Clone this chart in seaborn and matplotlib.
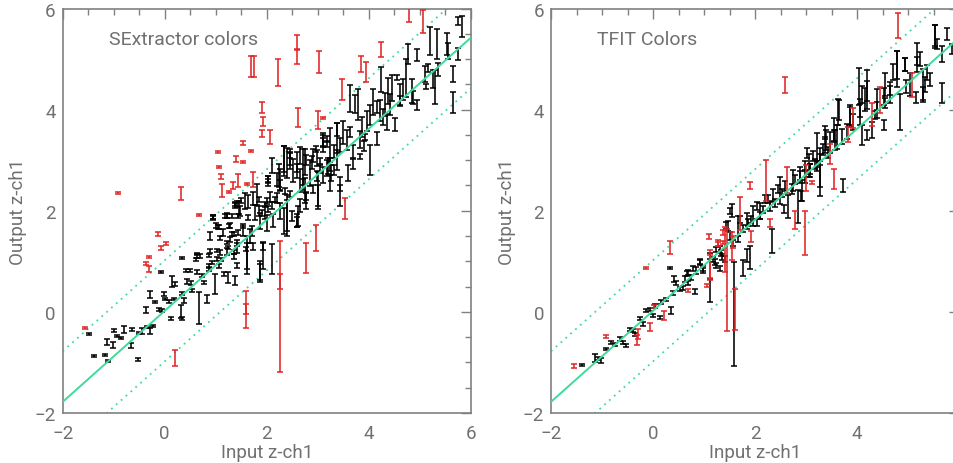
import numpy as np
import pandas as pd
import matplotlib
matplotlib.use("Agg")
import matplotlib.pyplot as plt
from matplotlib.ticker import MultipleLocator
import seaborn as sns

# ---------------- SExtractor colours ----------------
# black: well-measured sources (input colour, output colour, 1-sigma error)
sex_black_x = [-1.38, -1.18, -1.12, -1.48, -1.13, -1.00, -1.02, -0.94, -0.86, -0.79, -0.64, -0.67,
               -0.53, -0.50, -0.45, -0.35, -0.28, -0.22, -0.36, -0.28, -0.20, -0.12, -0.07, -0.06,
               -0.02, 0.01, 0.08, 0.13, 0.14, 0.18, 0.21, 0.31, 0.34, 0.33, 0.34, 0.37, 0.42, 0.44,
               0.50, 0.52, 0.54, 0.61, 0.68, 0.63, 0.73, 0.78, 0.83, 0.86, 0.86, 0.93, 0.98, 1.03,
               1.06, 1.11, 1.16, 1.22, 1.25, 1.32, 1.38, 1.35, 1.42, 1.25,
               0.95, 1.07, 1.22, 1.27, 1.38, 1.44, 1.53, 1.57, 1.64, 1.71, 1.77, 1.84, 1.90, 1.97,
               2.03, 2.06, 2.16, 2.26, 2.33, 2.39, 2.46, 2.52, 2.62, 2.65, 2.72, 2.75, 2.78, 2.88,
               2.91, 3.01, 3.05, 3.11, 3.21, 3.27, 3.37, 2.97, 3.18, 1.93, 2.10, 1.61, 1.87, 2.49,
               2.59, 1.44, 1.28, 1.08, 1.15, 1.35, 1.41, 1.02, 0.86, 0.69, 0.63, 2.03, 2.20, 2.36,
               1.80, 2.00, 2.65, 2.33, 2.59, 1.62, 1.87, 1.92,
               5.82, 5.76, 5.53, 5.56, 5.76, 5.66, 5.66, 5.33, 5.20, 5.36, 5.27, 5.30, 5.10, 5.12,
               5.17, 4.94, 4.78, 4.74, 4.84, 4.87, 4.94, 4.68, 4.61, 4.55, 4.45, 4.38, 4.32, 4.25,
               4.22, 4.16, 4.09, 4.03, 3.96, 3.86, 3.80, 3.73, 3.63, 3.83, 3.93, 4.03, 3.90, 4.35,
               4.51, 4.29, 3.63, 3.70, 3.57, 3.50, 3.44, 3.37, 3.31, 3.24, 3.18, 3.11, 3.44, 3.60,
               3.70, 3.83, 2.91, 2.78, 2.98, 3.04, 4.16, 4.42, 4.61, 3.44,
               1.22, 1.41, 1.45, 1.50, 2.03, 2.10, 2.25, 2.40, 2.46, 0.95, 1.00,
               2.33, 2.46, 2.59, 2.72, 2.85, 2.98, 3.11, 3.18, 3.24, 3.37, 3.31, 2.03, 2.26, 2.20,
               2.10, 1.97, 1.84, 1.74, 1.64, 1.48, 1.38, 1.28, 1.31, 1.18, 1.05, 0.95, 1.08, 1.35,
               1.54, 1.67, 1.74, 1.60, 1.87, 2.00, 2.13, 2.26, 2.39, 2.59, 2.65, 2.78, 2.75, 3.00,
               2.46, 0.89, 0.63, 0.89, 1.22, 1.41, 3.11, 3.24]
sex_black_y = [-0.87, -0.85, -0.97, -0.44, -0.59, -0.37, -0.66, -0.48, -0.52, -0.34, -0.35, -0.67,
               -0.95, -0.42, -0.38, -0.29, -0.37, -0.27, 0.04, 0.35, 0.20, 0.04, 0.78, 0.02,
               0.36, 0.25, 0.20, -0.14, 0.60, 0.25, 0.55, 0.00, -0.14, 1.06, 0.37, 0.23, 0.81, 0.61,
               0.81, 0.58, 0.42, 1.04, 0.08, 1.14, 0.71, 0.58, 0.25, 1.11, 0.85, 0.98, 0.55, 1.21,
               0.91, 1.04, 0.75, 1.37, 0.68, 1.54, 0.62, 1.18, 1.34, 1.27,
               1.87, 1.67, 1.90, 1.70, 2.10, 1.90, 1.70, 2.20, 1.86, 1.60, 1.97, 2.23, 1.96, 2.13,
               2.03, 2.28, 2.23, 2.50, 2.98, 1.86, 3.06, 2.79, 1.90, 3.10, 2.56, 2.96, 2.30, 2.95,
               2.43, 2.40, 2.82, 3.39, 2.89, 2.75, 3.60, 3.22, 3.41, 1.11, 1.05, 1.10, 0.79, 1.90,
               1.78, 1.57, 1.44, 1.17, 1.57, 1.10, 0.91, 1.04, 0.91, 1.11, 0.78, 2.62, 2.62, 2.39,
               2.32, 2.20, 2.60, 1.80, 2.85, 1.12, 0.80, 1.30,
               5.65, 5.75, 5.30, 5.16, 5.10, 4.70, 4.14, 5.30, 5.36, 4.80, 4.60, 4.45, 4.70, 4.45,
               4.83, 5.08, 5.10, 4.63, 4.37, 4.24, 4.10, 4.40, 4.17, 4.63, 4.43, 4.37, 4.10, 4.60,
               3.99, 4.05, 4.15, 3.90, 3.77, 3.65, 4.10, 4.11, 4.22, 3.41, 3.45, 3.00, 3.28, 3.75,
               3.70, 3.86, 3.56, 3.17, 3.40, 3.55, 3.30, 3.00, 3.18, 2.91, 2.84, 3.30, 2.53, 2.74,
               2.93, 3.08, 3.10, 3.00, 2.69, 2.98, 3.43, 4.10, 4.30, 2.30,
               1.90, 2.13, 2.07, 2.20, 2.59, 2.90, 2.70, 2.94, 3.10, 1.87, 1.70,
               3.02, 2.98, 2.90, 2.82, 2.75, 3.05, 3.40, 3.32, 3.30, 3.44, 2.80, 2.58, 2.62, 2.26,
               2.10, 1.96, 2.00, 2.25, 2.18, 1.99, 2.13, 1.70, 1.90, 1.90, 1.67, 1.87, 1.47, 1.54,
               1.60, 1.50, 1.30, 1.24, 1.80, 1.76, 1.80, 2.00, 1.95, 1.80, 2.10, 2.20, 2.40, 2.30,
               2.33, 1.50, 1.10, 1.20, 1.20, 1.30, 2.70, 2.55]
sex_black_err = [0.02, 0.02, 0.02, 0.02, 0.06, 0.03, 0.06, 0.02, 0.02, 0.07, 0.03, 0.05,
                 0.03, 0.02, 0.06, 0.02, 0.06, 0.02, 0.06, 0.07, 0.02, 0.03, 0.02, 0.03,
                 0.04, 0.02, 0.03, 0.03, 0.10, 0.02, 0.04, 0.13, 0.03, 0.02, 0.03, 0.05, 0.03, 0.05,
                 0.03, 0.04, 0.03, 0.03, 0.31, 0.02, 0.03, 0.03, 0.08, 0.03, 0.04, 0.03, 0.20, 0.03,
                 0.04, 0.03, 0.04, 0.03, 0.10, 0.04, 0.08, 0.04, 0.03, 0.03,
                 0.03, 0.04, 0.04, 0.04, 0.05, 0.04, 0.04, 0.16, 0.05, 0.10, 0.15, 0.05, 0.06, 0.05,
                 0.06, 0.10, 0.05, 0.10, 0.30, 0.36, 0.16, 0.23, 0.20, 0.17, 0.06, 0.26, 0.08, 0.13,
                 0.07, 0.36, 0.08, 0.10, 0.16, 0.16, 0.13, 0.06, 0.06, 0.26, 0.30, 0.26, 0.15, 0.10,
                 0.10, 0.05, 0.05, 0.05, 0.06, 0.05, 0.05, 0.04, 0.04, 0.04, 0.04, 0.06, 0.13, 0.06,
                 0.20, 0.06, 0.23, 0.26, 0.08, 0.38, 0.20, 0.08,
                 0.21, 0.08, 0.21, 0.16, 0.12, 0.16, 0.21, 0.30, 0.28, 0.13, 0.18, 0.33, 0.16, 0.05,
                 0.08, 0.12, 0.20, 0.38, 0.23, 0.13, 0.10, 0.20, 0.10, 0.05, 0.26, 0.26, 0.23, 0.25,
                 0.21, 0.12, 0.26, 0.20, 0.20, 0.20, 0.30, 0.17, 0.26, 0.16, 0.06, 0.30, 0.10, 0.16,
                 0.13, 0.16, 0.10, 0.13, 0.20, 0.23, 0.13, 0.20, 0.13, 0.13, 0.16, 0.13, 0.13, 0.16,
                 0.10, 0.05, 0.13, 0.10, 0.10, 0.06, 0.13, 0.20, 0.20, 0.20,
                 0.05, 0.06, 0.13, 0.05, 0.04, 0.15, 0.23, 0.30, 0.06, 0.05, 0.05,
                 0.26, 0.16, 0.26, 0.40, 0.26, 0.16, 0.13, 0.06, 0.33, 0.30, 0.10, 0.10, 0.20, 0.10,
                 0.07, 0.13, 0.10, 0.13, 0.13, 0.10, 0.04, 0.05, 0.04, 0.04, 0.04, 0.04, 0.04, 0.04,
                 0.10, 0.13, 0.07, 0.04, 0.16, 0.16, 0.13, 0.16, 0.36, 0.13, 0.13, 0.16, 0.25, 0.20,
                 0.06, 0.07, 0.04, 0.04, 0.07, 0.13, 0.16, 0.16]

# red: catastrophic / blended sources
sex_red_x = [-0.92, 0.31, 0.67, -0.14, 1.05, 1.06, 1.10, 1.12, 1.26, 1.34, 1.39, 1.44, 1.53, 1.53,
             1.61, 1.69, 1.73, 1.69, 1.76, 1.91, 1.92, 1.91, 2.06, 2.22, 2.60, 2.60, 4.80, 5.07,
             4.24, 3.84, 3.94, 3.47, 3.03, 2.62, 3.01, 3.10, 3.54, 2.97, 2.78, 2.27, 2.27, 1.59,
             1.59, 0.21, -1.57, 0.02, -0.07, -0.30, -0.37, -0.30]
sex_red_y = [2.35, 2.34, 1.92, 1.54, 3.16, 2.87, 2.68, 2.40, 2.37, 2.50, 3.03, 2.60, 2.96, 3.34,
             2.53, 3.18, 2.62, 4.85, 4.85, 4.05, 3.76, 3.53, 3.46, 4.73, 5.05, 5.32, 5.95, 5.75,
             5.19, 4.90, 4.74, 4.40, 4.94, 3.84, 3.79, 3.84, 2.04, 1.46, 1.07, 0.11, 0.60, 0.05,
             0.05, -0.91, -0.32, 1.35, 1.27, 1.08, 0.95, 0.85]
sex_red_err = [0.02, 0.13, 0.02, 0.03, 0.02, 0.02, 0.05, 0.13, 0.02, 0.06, 0.06, 0.13, 0.02, 0.03,
               0.02, 0.02, 0.15, 0.21, 0.21, 0.11, 0.09, 0.07, 0.13, 0.27, 0.15, 0.15, 0.22, 0.23,
               0.15, 0.16, 0.20, 0.20, 0.21, 0.19, 0.18, 0.02, 0.21, 0.25, 0.30, 1.30, 0.15, 0.37,
               0.10, 0.16, 0.02, 0.03, 0.04, 0.02, 0.03, 0.06]

# ---------------- TFIT colours ----------------
tfit_black_x = [-1.40, -1.14, -1.08, -1.01, -0.92, -0.82, -0.75, -0.65, -0.59, -0.52, -0.46, -0.39,
                -0.35, -0.26, -0.20, -0.13, -0.06, 0.00, 0.03, 0.13, 0.16, 0.26, 0.36, 0.33, 0.39,
                0.46, 0.52, 0.59, 0.62, 0.69, 0.75, 0.82, 0.85, 0.92, 0.98, 1.11, 1.18, 1.24, 1.31,
                1.34, 1.41, 1.24, 0.42, 0.69,
                0.66, 0.79, 0.92, 0.99, 1.12, 1.22, 1.31, 1.35, 1.44, 1.51, 1.57, 1.67, 1.77, 1.84,
                1.87, 1.93, 2.03, 2.03, 2.10, 2.16, 2.26, 2.33, 2.39, 2.46, 2.52, 2.59, 2.65, 2.72,
                2.78, 2.85, 2.88, 2.98, 3.01, 3.08, 3.14, 3.21, 3.27, 3.34, 3.37, 3.44, 3.54, 3.60,
                2.56, 2.20, 1.71, 1.51, 1.90, 1.77, 1.59,
                5.53, 5.56, 5.76, 5.86, 5.66, 5.66, 5.43, 5.37, 5.24, 5.18, 5.33, 5.30, 5.16, 4.97,
                4.94, 4.84, 4.78, 4.71, 4.65, 4.55, 4.52, 4.39, 4.35, 4.19, 4.16, 4.09, 4.06, 4.52,
                4.29, 3.93, 3.86, 3.80, 3.70, 3.65, 3.57, 3.47, 3.37, 3.27, 3.18, 3.08, 2.98, 2.91,
                3.27, 3.73, 4.09, 4.19,
                3.63, 4.03, 4.19, 4.55, 4.78, 4.94, 5.17, 5.53, 3.40, 3.21, 3.05, 2.88, 2.75, 2.49,
                2.36, 2.29, 2.92, 2.10, 1.97, 1.84, 1.67, 1.54, 1.48, 3.54, 4.06, 4.39, 4.65, 5.04,
                5.30, 3.86]
tfit_black_y = [-1.05, -0.91, -0.93, -0.97, -0.74, -0.60, -0.64, -0.54, -0.60, -0.66, -0.34, -0.37,
                -0.44, -0.14, -0.24, 0.02, 0.05, -0.08, 0.12, -0.11, 0.19, 0.25, 0.03, 0.86, 0.38,
                0.58, 0.45, 0.48, 0.65, 0.58, 0.68, 0.41, 0.81, 0.98, 0.85, 0.42, 1.04, 0.91, 0.85,
                1.17, 1.04, 1.24, 0.65, 0.78,
                0.75, 0.85, 0.98, 0.81, 1.11, 0.98, 1.24, 1.08, 1.71, 2.00, 1.37, 1.44, 1.64, 1.12,
                1.77, 1.83, 1.77, 2.10, 1.90, 2.03, 2.23, 1.40, 2.16, 2.43, 2.36, 2.49, 2.08, 2.43,
                2.62, 2.09, 2.69, 2.89, 3.15, 2.82, 3.09, 2.89, 2.60, 3.22, 3.54, 3.15, 3.48, 3.46,
                2.03, 2.23, 1.83, 1.50, 1.07, 0.87, -0.05,
                5.45, 5.30, 5.50, 5.20, 5.10, 4.33, 4.60, 4.74, 5.00, 5.10, 4.50, 4.30, 4.24, 4.45,
                4.90, 3.95, 4.88, 4.75, 4.42, 4.13, 4.26, 3.99, 3.90, 4.40, 4.20, 4.30, 3.98, 3.70,
                3.60, 3.76, 3.90, 3.56, 3.47, 4.00, 3.40, 3.35, 3.30, 3.11, 2.93, 2.80, 2.68, 2.30,
                2.80, 2.50, 3.50, 3.50,
                3.95, 4.46, 4.37, 4.49, 4.80, 4.90, 4.90, 5.47, 3.40, 3.20, 2.90, 2.70, 2.60, 2.40,
                2.30, 2.10, 2.40, 2.00, 1.90, 1.80, 1.70, 2.00, 1.70, 3.60, 3.95, 4.20, 4.30, 4.50,
                4.50, 3.85]
tfit_black_err = [0.02, 0.08, 0.03, 0.05, 0.02, 0.03, 0.03, 0.04, 0.03, 0.03, 0.03, 0.03,
                  0.03, 0.03, 0.03, 0.03, 0.03, 0.03, 0.04, 0.03, 0.04, 0.03, 0.07, 0.02, 0.04,
                  0.04, 0.04, 0.04, 0.05, 0.04, 0.05, 0.05, 0.07, 0.04, 0.05, 0.23, 0.05, 0.05, 0.05,
                  0.06, 0.06, 0.05, 0.05, 0.05,
                  0.05, 0.05, 0.06, 0.05, 0.06, 0.06, 0.07, 0.06, 0.07, 0.06, 0.06, 0.06, 0.07, 0.13,
                  0.07, 0.07, 0.07, 0.08, 0.07, 0.07, 0.08, 0.23, 0.08, 0.08, 0.08, 0.09, 0.23, 0.09,
                  0.09, 0.33, 0.09, 0.10, 0.10, 0.10, 0.10, 0.10, 0.30, 0.11, 0.13, 0.11, 0.12, 0.23,
                  0.08, 0.08, 0.07, 0.07, 0.23, 0.16, 1.03,
                  0.23, 0.10, 0.12, 0.10, 0.16, 0.20, 0.13, 0.15, 0.13, 0.21, 0.15, 0.15, 0.10, 0.13,
                  0.13, 0.35, 0.28, 0.16, 0.13, 0.10, 0.16, 0.16, 0.08, 0.38, 0.23, 0.16, 0.13, 0.10,
                  0.16, 0.16, 0.20, 0.15, 0.15, 0.20, 0.20, 0.20, 0.16, 0.13, 0.10, 0.13, 0.13, 0.10,
                  0.33, 0.13, 0.20, 0.10,
                  0.26, 0.36, 0.20, 0.23, 0.35, 0.13, 0.15, 0.21, 0.20, 0.33, 0.23, 0.16, 0.20, 0.26,
                  0.13, 0.10, 0.20, 0.16, 0.20, 0.16, 0.20, 0.13, 0.10, 0.23, 0.26, 0.20, 0.16, 0.23,
                  0.30, 0.20]

tfit_red_x = [4.80, 2.59, 1.90, 2.22, 2.62, 3.47, 3.54, 3.93, 3.82, 4.45, 5.08, 4.30, 1.71, 2.78,
              2.98, 2.29, 3.00, 3.11, 1.92, 1.54, 1.41, 1.12, 1.28, 1.57, 1.38, -1.55, -0.92,
              -0.13, 0.33, -0.29, -0.31, -0.05, 0.21, 0.02, 0.69, 1.06, 1.11, 1.27, 1.37, 1.45,
              1.61, 1.10]
tfit_red_y = [5.67, 4.49, 2.50, 2.60, 2.61, 3.12, 2.63, 3.84, 3.51, 4.19, 4.49, 3.90, 1.95, 1.81,
              1.56, 1.75, 2.65, 2.56, 1.49, 1.30, 1.23, 0.93, 1.37, 1.38, 1.57, -1.07, -0.48,
              0.86, 1.28, -0.44, -0.55, -0.30, -0.07, 0.11, 0.42, 0.53, 0.90, 1.34, 1.37, 0.63,
              0.05, 1.50]
tfit_red_err = [0.25, 0.16, 0.07, 0.40, 0.25, 0.20, 0.20, 0.20, 0.15, 0.25, 0.24, 0.23, 0.33, 0.18,
                0.43, 0.08, 0.25, 0.03, 0.10, 0.28, 0.45, 0.30, 0.06, 0.12, 0.04, 0.04, 0.03,
                0.02, 0.13, 0.10, 0.10, 0.08, 0.09, 0.03, 0.03, 0.03, 0.23, 0.04, 0.03, 1.00,
                0.40, 0.05]

# fitted relation and its +/- band
FIT_SLOPE = 0.9
FIT_ZERO = 0.02
BAND = 1.0

panels = [
    ("SExtractor colors", [-2, 0, 2, 4, 6],
     sex_black_x, sex_black_y, sex_black_err, sex_red_x, sex_red_y, sex_red_err),
    ("TFIT Colors", [-2, 0, 2, 4],
     tfit_black_x, tfit_black_y, tfit_black_err, tfit_red_x, tfit_red_y, tfit_red_err),
]

sns.set_style("white")
plt.rcParams["font.family"] = ["Roboto", "DejaVu Sans"]
plt.rcParams["axes.unicode_minus"] = True

GREY = "#707070"
SPINE = "#808080"
MINT = "#3ddc9a"
RED = "#e02525"

W, H = 954, 464
fig = plt.figure(figsize=(W / 100, H / 100), dpi=100)

ax_left_px = [62.7, 551.0]
ax_w_px = 408.0
ax_top_px, ax_bot_px = 9.5, 414.0

for i, (title, xt, bx, by, be, rx, ry, re) in enumerate(panels):
    ax = fig.add_axes([ax_left_px[i] / W, (H - ax_bot_px) / H,
                       ax_w_px / W, (ax_bot_px - ax_top_px) / H])
    ax.set_xlim(-2, 6)
    ax.set_ylim(-2, 6)

    xs = np.array([-2.0, 6.0])
    lines = pd.DataFrame({
        "x": np.concatenate([xs, xs, xs]),
        "y": np.concatenate([FIT_SLOPE * xs + FIT_ZERO,
                             FIT_SLOPE * xs + FIT_ZERO + BAND,
                             FIT_SLOPE * xs + FIT_ZERO - BAND]),
        "kind": ["fit"] * 2 + ["upper"] * 2 + ["lower"] * 2,
    })
    sns.lineplot(data=lines[lines.kind == "fit"], x="x", y="y", ax=ax,
                 color=MINT, lw=1.4, zorder=4)
    for k in ("upper", "lower"):
        sns.lineplot(data=lines[lines.kind == k], x="x", y="y", ax=ax,
                     color=MINT, lw=1.3, linestyle=(0, (1, 2.6)), zorder=1)

    ax.errorbar(bx, by, yerr=be, fmt="none", ecolor="black", elinewidth=1.15,
                capsize=2.4, capthick=1.1, zorder=3)
    ax.errorbar(rx, ry, yerr=re, fmt="none", ecolor=RED, elinewidth=1.15,
                capsize=2.4, capthick=1.1, zorder=3)

    ax.text(0.113, 0.925, title, transform=ax.transAxes, fontsize=14,
            color=GREY, ha="left", va="center")

    ax.set_xlabel("Input z-ch1", fontsize=13.5, color=GREY, labelpad=1)
    ax.set_ylabel("Output z-ch1", fontsize=13.5, color=GREY, labelpad=5)
    ax.set_xticks(xt)
    ax.set_yticks([-2, 0, 2, 4, 6])
    ax.xaxis.set_minor_locator(MultipleLocator(0.5))
    ax.yaxis.set_minor_locator(MultipleLocator(0.5))
    ax.tick_params(which="both", direction="in", top=True, right=True,
                   colors=SPINE, labelcolor=GREY, width=1.0)
    ax.tick_params(which="major", length=7, labelsize=13.5)
    ax.tick_params(which="minor", length=4)
    ax.tick_params(axis="x", which="major", pad=8)
    ax.tick_params(axis="y", which="major", pad=5)
    for s in ax.spines.values():
        s.set_color(SPINE)
        s.set_linewidth(1.2)
        s.set_visible(True)

fig.savefig("out.png", dpi=100)
